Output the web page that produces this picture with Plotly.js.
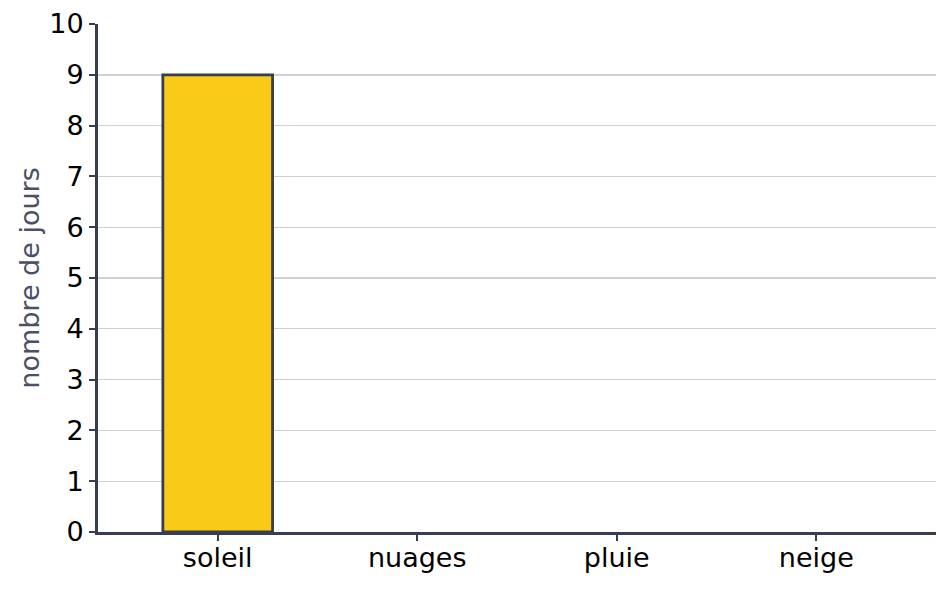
<!DOCTYPE html>
<html>
<head>
<meta charset="utf-8">
<script src="https://cdn.plot.ly/plotly-3.0.1.min.js"></script>
<style>html,body{margin:0;padding:0;background:#fff;}#chart{width:949px;height:589px;}</style>
</head>
<body>
<div id="chart"></div>
<script>
const categories = ["soleil", "nuages", "pluie", "neige"];
const days = [9, 0, 0, 0];
const yTicks = [0, 1, 2, 3, 4, 5, 6, 7, 8, 9, 10];

const trace = {
  type: "bar",
  x: categories,
  y: days,
  width: 0.55,
  marker: {color: "#f9cb16", line: {color: "#373e4f", width: days.map(v => v > 0 ? 2.8 : 0)}},
  hoverinfo: "x+y"
};

const FS = 27;
const layout = {
  width: 949, height: 589,
  margin: {l: 98, r: 13, t: 24, b: 57},
  paper_bgcolor: "#ffffff",
  plot_bgcolor: "#ffffff",
  showlegend: false,
  font: {family: "DejaVu Sans", size: FS, color: "#000000"},
  xaxis: {
    range: [-0.6, 3.6],
    showgrid: false,
    showline: true, linecolor: "#373e4f", linewidth: 3,
    ticks: "outside", ticklen: 6, tickwidth: 2, tickcolor: "#373e4f",
    ticklabelstandoff: -6,
    tickfont: {family: "DejaVu Sans", size: FS, color: "#000000"},
    zeroline: false
  },
  yaxis: {
    range: [0, 10],
    tickvals: yTicks,
    showgrid: true, gridcolor: "#cfd1d8", gridwidth: 1.4,
    showline: true, linecolor: "#373e4f", linewidth: 3,
    ticks: "outside", ticklen: 6, tickwidth: 2, tickcolor: "#373e4f",
    tickfont: {family: "DejaVu Sans", size: FS, color: "#000000"},
    zeroline: false,
    title: {text: "nombre de jours", font: {family: "DejaVu Sans", size: FS, color: "#4a5066"}, standoff: 2}
  }
};

Plotly.newPlot("chart", [trace], layout, {displayModeBar: false, staticPlot: true});
</script>
</body>
</html>
